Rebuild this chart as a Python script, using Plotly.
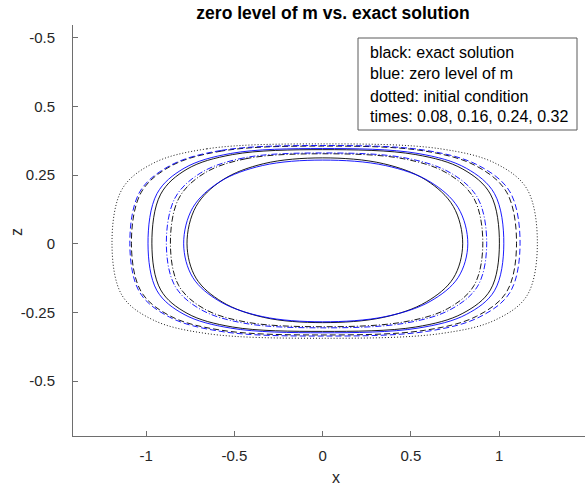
import plotly.graph_objects as go

# ---- data (x, z coordinates of each closed curve) ----
init_x = [0, -0.655, -0.961, -1.135, -1.193, -1.135, -0.961, -0.655, 0, 0.668, 0.980, 1.158, 1.217, 1.158, 0.980, 0.668, 0]
init_z = [0.364, 0.346, 0.293, 0.200, 0, -0.189, -0.277, -0.327, -0.344, -0.327, -0.277, -0.189, 0, 0.200, 0.293, 0.346, 0.364]

exact08_x = [0, -0.571, -0.860, -1.027, -1.083, -1.027, -0.860, -0.571, 0, 0.579, 0.872, 1.043, 1.099, 1.043, 0.872, 0.579, 0]
exact08_z = [0.356, 0.338, 0.283, 0.188, 0, -0.175, -0.264, -0.315, -0.332, -0.315, -0.264, -0.175, 0, 0.188, 0.283, 0.338, 0.356]
level08_x = [0, -0.576, -0.867, -1.036, -1.092, -1.036, -0.867, -0.576, 0, 0.590, 0.888, 1.062, 1.119, 1.062, 0.888, 0.590, 0]
level08_z = [0.358, 0.340, 0.284, 0.189, 0, -0.177, -0.267, -0.319, -0.336, -0.319, -0.267, -0.177, 0, 0.189, 0.284, 0.340, 0.358]

exact16_x = [0, -0.510, -0.768, -0.917, -0.967, -0.917, -0.768, -0.510, 0, 0.528, 0.795, 0.951, 1.002, 0.951, 0.795, 0.528, 0]
exact16_z = [0.343, 0.325, 0.272, 0.181, 0, -0.168, -0.253, -0.303, -0.319, -0.303, -0.253, -0.168, 0, 0.181, 0.272, 0.325, 0.343]
level16_x = [0, -0.521, -0.785, -0.938, -0.989, -0.938, -0.785, -0.521, 0, 0.541, 0.815, 0.974, 1.027, 0.974, 0.815, 0.541, 0]
level16_z = [0.347, 0.329, 0.275, 0.183, 0, -0.171, -0.257, -0.307, -0.324, -0.307, -0.257, -0.171, 0, 0.183, 0.275, 0.329, 0.347]

exact24_x = [0, -0.434, -0.673, -0.815, -0.862, -0.815, -0.673, -0.434, 0, 0.457, 0.709, 0.858, 0.908, 0.858, 0.709, 0.457, 0]
exact24_z = [0.328, 0.310, 0.256, 0.165, 0, -0.152, -0.236, -0.285, -0.302, -0.285, -0.236, -0.152, 0, 0.165, 0.256, 0.310, 0.328]
level24_x = [0, -0.446, -0.691, -0.836, -0.885, -0.836, -0.691, -0.446, 0, 0.468, 0.726, 0.879, 0.930, 0.879, 0.726, 0.468, 0]
level24_z = [0.331, 0.313, 0.258, 0.167, 0, -0.154, -0.239, -0.289, -0.306, -0.289, -0.239, -0.154, 0, 0.167, 0.258, 0.313, 0.331]

exact32_x = [0, -0.333, -0.568, -0.717, -0.768, -0.717, -0.568, -0.333, 0, 0.344, 0.587, 0.741, 0.794, 0.741, 0.587, 0.344, 0]
exact32_z = [0.313, 0.292, 0.232, 0.136, 0, -0.125, -0.212, -0.268, -0.287, -0.268, -0.212, -0.125, 0, 0.136, 0.232, 0.292, 0.313]
level32_x = [0, -0.341, -0.582, -0.735, -0.787, -0.735, -0.582, -0.341, 0, 0.357, 0.609, 0.768, 0.823, 0.768, 0.609, 0.357, 0]
level32_z = [0.305, 0.285, 0.226, 0.132, 0, -0.123, -0.210, -0.265, -0.284, -0.265, -0.210, -0.123, 0, 0.132, 0.226, 0.285, 0.305]

x_tickvals = [-1, -0.5, 0, 0.5, 1]
x_ticktext = ["-1", "-0.5", "0", "0.5", "1"]
y_tickvals = [0.75, 0.5, 0.25, 0, -0.25, -0.5]
y_ticktext = ["-0.5", "0.5", "0.25", "0", "-0.25", "-0.5"]

legend_lines = ["black: exact solution", "blue: zero level of m",
                "dotted: initial condition", "times: 0.08, 0.16, 0.24, 0.32"]

# ---- styles ----
DOT = "1px,2px"
DASH = "6px,3px"
DASHDOT = "6px,2px,1px,2px"
BLACK = "#000000"
BLUE = "#0000ff"

curves = [
    (init_x, init_z, BLACK, DOT),
    (exact08_x, exact08_z, BLACK, DASH),
    (level08_x, level08_z, BLUE, DASH),
    (exact16_x, exact16_z, BLACK, "solid"),
    (level16_x, level16_z, BLUE, "solid"),
    (exact24_x, exact24_z, BLACK, DASHDOT),
    (level24_x, level24_z, BLUE, DASHDOT),
    (exact32_x, exact32_z, BLACK, "solid"),
    (level32_x, level32_z, BLUE, "solid"),
]

fig = go.Figure()
for cx, cz, col, dash in curves:
    fig.add_trace(go.Scatter(
        x=cx, y=cz, mode="lines",
        line=dict(color=col, width=0.9, dash=dash, shape="spline", smoothing=1.0),
        hoverinfo="skip", showlegend=False,
    ))

FONT = "Liberation Sans, Arial, Helvetica, sans-serif"
AXC = "#6e6e6e"
TXT = "#262626"

fig.update_layout(
    width=585, height=490,
    margin=dict(l=73, r=0, t=25, b=54),
    paper_bgcolor="white", plot_bgcolor="white",
    font=dict(family=FONT, size=15, color=TXT),
    title=dict(text="<b>zero level of m vs. exact solution</b>",
               x=333 / 585, xanchor="center", y=1 - 13 / 490, yanchor="middle",
               font=dict(size=17.5, color="#000000")),
    showlegend=False,
)
fig.update_xaxes(
    range=[-1.414, 1.487], tickvals=x_tickvals, ticktext=x_ticktext,
    showgrid=False, zeroline=False, showline=True, linecolor=AXC, linewidth=1,
    ticks="inside", ticklen=5, tickcolor=AXC, tickwidth=1,
    ticklabelstandoff=6, tickfont=dict(size=15, color=TXT),
)
fig.update_yaxes(
    range=[-0.70, 0.797], tickvals=y_tickvals, ticktext=y_ticktext,
    showgrid=False, zeroline=False, showline=True, linecolor=AXC, linewidth=1,
    ticks="inside", ticklen=5, tickcolor=AXC, tickwidth=1,
    ticklabelstandoff=14, tickfont=dict(size=15, color=TXT),
)

# axis labels
fig.add_annotation(text="x", xref="paper", yref="paper", x=(336 - 73) / 512,
                   y=(436 - 477) / 411, xanchor="center", yanchor="middle",
                   showarrow=False, font=dict(size=16, color=TXT))
fig.add_annotation(text="z", xref="paper", yref="paper", x=(17 - 73) / 512,
                   y=(436 - 232) / 411, xanchor="center", yanchor="middle",
                   textangle=-90, showarrow=False, font=dict(size=16, color=TXT))

# text box
fig.add_shape(type="rect", xref="paper", yref="paper",
              x0=(358 - 73) / 512, x1=(577 - 73) / 512,
              y0=(436 - 130) / 411, y1=(436 - 38) / 411,
              line=dict(color="#5a5a5a", width=1), fillcolor="white", layer="above")
line_y = [52, 74, 96, 117]
for txt, py in zip(legend_lines, line_y):
    fig.add_annotation(text=txt, xref="paper", yref="paper",
                       x=(368 - 73) / 512, y=(436 - py) / 411,
                       xanchor="left", yanchor="middle", showarrow=False,
                       font=dict(size=16, color="#000000"))

fig.write_html("out.html", config={"displayModeBar": False},
               post_script="document.body.style.margin='0';document.body.style.padding='0';")
